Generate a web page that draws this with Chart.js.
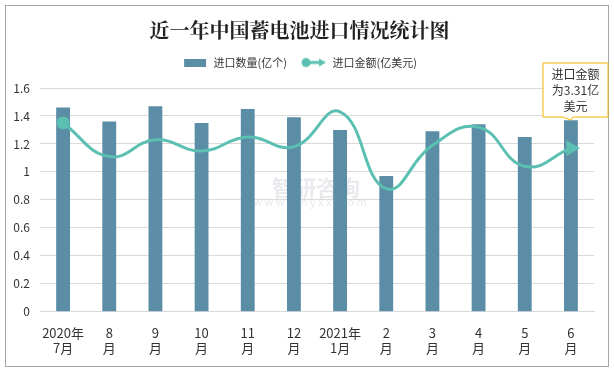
<!DOCTYPE html>
<html>
<head>
<meta charset="utf-8">
<script src="https://cdn.jsdelivr.net/npm/chart.js@4.4.1/dist/chart.umd.min.js"></script>
<style>
  html, body { margin: 0; padding: 0; background: #fff; }
  #wrap { position: relative; width: 614px; height: 372px; }
</style>
</head>
<body>
<div id="wrap"><canvas id="batteryChart" width="614" height="372"></canvas></div>
<script>
// data
const months = [['2020年', '7月'], ['8', '月'], ['9', '月'], ['10', '月'], ['11', '月'], ['12', '月'],
  ['2021年', '1月'], ['2', '月'], ['3', '月'], ['4', '月'], ['5', '月'], ['6', '月']];
const quantity = [1.46, 1.36, 1.47, 1.35, 1.45, 1.39, 1.30, 0.97, 1.29, 1.34, 1.25, 1.37];
const amount = [1.35, 1.11, 1.23, 1.15, 1.25, 1.18, 1.43, 0.88, 1.19, 1.32, 1.04, 1.17];
const yTicks = [0, 0.2, 0.4, 0.6, 0.8, 1, 1.2, 1.4, 1.6];
const calloutLines = ['进口金额', '为3.31亿', '美元'];

const barColor = '#5b8ea6';
const lineColor = '#5bbfb2';
const font = '"Microsoft YaHei", "Noto Sans CJK SC", sans-serif';

// legend swatches
function makeSwatch(w, h, draw) {
  const c = document.createElement('canvas');
  c.width = w; c.height = h;
  draw(c.getContext('2d'));
  return c;
}
const barSwatch = makeSwatch(26, 8, g => { g.fillStyle = barColor; g.fillRect(2, 0, 22, 8); });
const lineSwatch = makeSwatch(26, 12, g => {
  g.strokeStyle = lineColor; g.fillStyle = lineColor; g.lineWidth = 3;
  g.beginPath(); g.moveTo(4, 6); g.lineTo(20, 6); g.stroke();
  g.beginPath(); g.arc(5, 6, 4.5, 0, Math.PI * 2); g.fill();
  g.beginPath(); g.moveTo(18, 2); g.lineTo(25, 6); g.lineTo(18, 10); g.closePath(); g.fill();
});

const frame = {
  id: 'frame',
  beforeInit(chart) {
    // a little more room under the legend
    const fit = chart.legend.fit;
    chart.legend.fit = function () { fit.call(this); this.height += 10; };
  },
  beforeDraw(chart) {
    const g = chart.ctx;
    g.save();
    g.fillStyle = '#fff';
    g.fillRect(0, 0, chart.width, chart.height);
    g.strokeStyle = '#a6a6a6';
    g.lineWidth = 1;
    g.strokeRect(5.5, 5.5, 603, 361);
    // faint watermark
    g.globalAlpha = 0.18;
    g.fillStyle = '#7f8c99';
    g.font = 'bold 22px ' + font;
    g.textAlign = 'center';
    g.fillText('智研咨询', 316, 188);
    g.font = '11px ' + font;
    g.fillText('w w w . c h y x x . c o m', 310, 202);
    g.restore();
  },
  afterDatasetsDraw(chart) {
    const g = chart.ctx;
    const meta = chart.getDatasetMeta(1);
    const last = meta.data[meta.data.length - 1];
    const bx = 543, by = 63, bw = 65, bh = 54;
    g.save();
    g.strokeStyle = '#f2b705';
    g.fillStyle = '#fff';
    g.lineWidth = 1;
    g.beginPath();
    g.moveTo(bx, by);
    g.lineTo(bx + bw, by);
    g.lineTo(bx + bw, by + bh);
    g.lineTo(bx + 30, by + bh);
    g.lineTo(last.x, last.y);
    g.lineTo(bx + 20, by + bh);
    g.lineTo(bx, by + bh);
    g.closePath();
    g.fill();
    g.stroke();
    g.fillStyle = '#333';
    g.font = '12px ' + font;
    g.textAlign = 'center';
    g.textBaseline = 'middle';
    calloutLines.forEach((t, i) => g.fillText(t, bx + bw / 2, by + 11 + i * 16));
    g.restore();
  }
};

const ctx = document.getElementById('batteryChart').getContext('2d');
const batteryChart = new Chart(ctx, {
  type: 'bar',
  data: {
    labels: months,
    datasets: [
      {
        type: 'line',
        label: '进口金额(亿美元)',
        data: amount,
        borderColor: lineColor,
        backgroundColor: lineColor,
        borderWidth: 3,
        tension: 0.45,
        pointStyle: amount.map((v, i) => i === 0 ? 'circle' : (i === amount.length - 1 ? 'triangle' : false)),
        pointRotation: 90,
        pointRadius: amount.map((v, i) => i === 0 ? 5 : (i === amount.length - 1 ? 6 : 0)),
        order: 0
      },
      {
        label: '进口数量(亿个)',
        data: quantity,
        backgroundColor: barColor,
        barPercentage: 0.3,
        categoryPercentage: 1,
        order: 1
      }
    ]
  },
  options: {
    responsive: false,
    animation: false,
    layout: { padding: { left: 5, right: 20, top: 6, bottom: 11 } },
    scales: {
      x: {
        grid: { display: false },
        border: { color: '#d9d9d9' },
        ticks: { color: '#333', font: { size: 13, family: font }, maxRotation: 0, padding: 5 }
      },
      y: {
        min: 0,
        max: 1.6,
        afterBuildTicks(axis) { axis.ticks = yTicks.map(v => ({ value: v })); },
        afterFit(axis) { axis.width = 35; },
        border: { display: false },
        grid: { color: '#d9d9d9', drawTicks: false },
        ticks: { color: '#333', font: { size: 12, family: font }, padding: 10,
          callback: v => String(v) }
      }
    },
    plugins: {
      legend: {
        display: true,
        labels: {
          color: '#333',
          font: { size: 11, family: font },
          usePointStyle: true,
          pointStyleWidth: 26,
          padding: 14,
          generateLabels(chart) {
            return [
              { text: '进口数量(亿个)', pointStyle: barSwatch, datasetIndex: 1, fontColor: '#333', lineWidth: 0, strokeStyle: 'transparent' },
              { text: '进口金额(亿美元)', pointStyle: lineSwatch, datasetIndex: 0, fontColor: '#333', lineWidth: 0, strokeStyle: 'transparent' }
            ];
          }
        }
      },
      title: {
        display: true,
        text: '近一年中国蓄电池进口情况统计图',
        color: '#222',
        padding: { top: 12, bottom: 1 },
        font: { size: 20, weight: 'bold', family: '"Noto Serif CJK SC", "Noto Sans CJK SC", serif' }
      },
      tooltip: { enabled: false }
    }
  },
  plugins: [frame]
});
</script>
</body>
</html>
